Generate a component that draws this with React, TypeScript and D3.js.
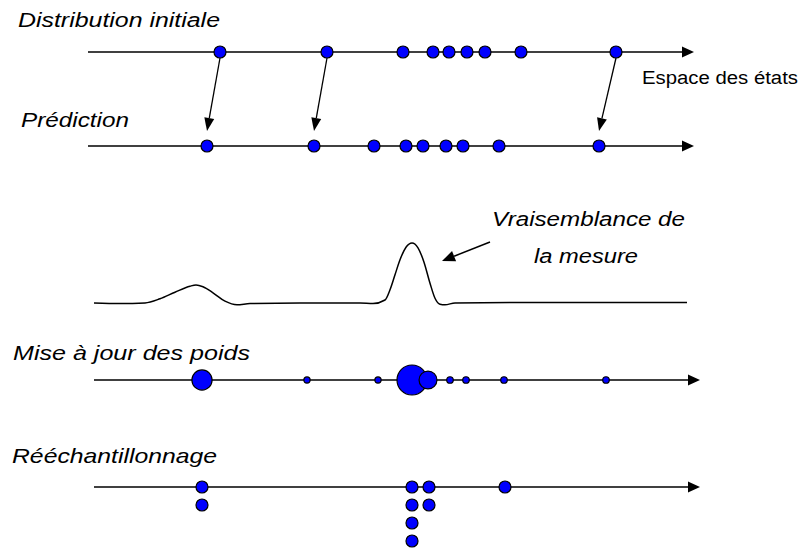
import * as d3 from "d3";

// particle positions along the state axis (state units)
const initialX = [130, 237, 313, 343, 359, 377, 395, 431, 526];
const predictedX = [117, 224, 284, 316, 333, 356, 373, 409, 509];
const movedIdx = [0, 1, 8];

const weightedX = [112, 217, 288, 322, 338, 360, 376, 414, 516];
const weights = [0.19, 0.018, 0.018, 0.42, 0.15, 0.02, 0.02, 0.02, 0.02];

const resampledX = [112, 322, 339, 415];
const resampledCount = [2, 4, 2, 1];

const likeX = [4, 30, 55, 70, 85, 100, 106, 113, 123, 135, 147, 160, 210, 270, 283, 295, 300, 305, 310, 316, 322, 328, 334, 340, 345, 350, 355, 365, 460, 597];
const likeY = [0, -0.01, 0, 0.07, 0.18, 0.28, 0.3, 0.27, 0.17, 0.03, -0.03, -0.01, 0, 0, -0.01, 0.05, 0.22, 0.47, 0.72, 0.93, 1, 0.92, 0.68, 0.33, 0.08, -0.02, -0.03, 0, 0.01, 0.01];

const W = 799;
const H = 550;
const ROW_INIT = 52;
const ROW_PRED = 146;
const ROW_LIKE = 303;
const ROW_WEIGHT = 380;
const ROW_RESAMPLE = 487;
const STACK = 18;
const DOT_R = 6;

const FONT = "'Liberation Sans', Arial, sans-serif";

function Arrow({ x1, y1, x2, y2, head = 12, half = 5, width = 1.5 }: { x1: number; y1: number; x2: number; y2: number; head?: number; half?: number; width?: number }) {
  const a = Math.atan2(y2 - y1, x2 - x1);
  const bx = x2 - head * Math.cos(a);
  const by = y2 - head * Math.sin(a);
  const px = -Math.sin(a) * half;
  const py = Math.cos(a) * half;
  return (
    <g>
      <line x1={x1} y1={y1} x2={bx} y2={by} stroke="#000" strokeWidth={width} />
      <polygon points={`${x2},${y2} ${bx + px},${by + py} ${bx - px},${by - py}`} fill="#000" />
    </g>
  );
}

function Dot({ cx, cy, r }: { cx: number; cy: number; r: number }) {
  return <circle cx={cx} cy={cy} r={r} fill="#0000ff" stroke="#000" strokeWidth={1.2} />;
}

export default function App() {
  const x = d3.scaleLinear().domain([0, 610]).range([90, 700]);
  const y = d3.scaleLinear().domain([0, 1]).range([ROW_LIKE, ROW_LIKE - 60]);
  const r = d3.scaleSqrt().domain([0, 0.42]).range([0, 15]);

  const likePath =
    d3
      .line<number>()
      .x((d) => x(d))
      .y((_d, i) => y(likeY[i]))
      .curve(d3.curveMonotoneX)(likeX) ?? "";

  const title = (t: string, tx: number, ty: number, len: number, italic = true, size = 20) => (
    <text
      x={tx}
      y={ty}
      fontFamily={FONT}
      fontSize={size}
      fontStyle={italic ? "italic" : "normal"}
      textLength={len}
      lengthAdjust="spacingAndGlyphs"
      fill="#000"
    >
      {t}
    </text>
  );

  return (
    <svg width={W} height={H} style={{ position: "absolute", left: 0, top: 0, background: "#fff" }}>
      {/* axes */}
      <Arrow x1={x(-2)} y1={ROW_INIT} x2={x(604)} y2={ROW_INIT} half={5.5} />
      <Arrow x1={x(-2)} y1={ROW_PRED} x2={x(604)} y2={ROW_PRED} half={5.5} />
      <Arrow x1={x(4)} y1={ROW_WEIGHT} x2={x(610)} y2={ROW_WEIGHT} half={5.5} />
      <Arrow x1={x(4)} y1={ROW_RESAMPLE} x2={x(610)} y2={ROW_RESAMPLE} half={5.5} />

      {/* prediction arrows */}
      {movedIdx.map((i) => (
        <Arrow
          key={i}
          x1={x(initialX[i])}
          y1={ROW_INIT + 6}
          x2={x(predictedX[i])}
          y2={ROW_PRED - 15}
          head={13}
          half={5}
          width={1.3}
        />
      ))}

      {initialX.map((d, i) => (
        <Dot key={`i${i}`} cx={x(d)} cy={ROW_INIT} r={DOT_R} />
      ))}
      {predictedX.map((d, i) => (
        <Dot key={`p${i}`} cx={x(d)} cy={ROW_PRED} r={DOT_R} />
      ))}

      {/* likelihood */}
      <path d={likePath} fill="none" stroke="#000" strokeWidth={1.5} />
      <Arrow x1={490} y1={242} x2={442} y2={261} head={13} half={5.5} width={1.5} />

      {weightedX.map((d, i) => (
        <Dot key={`w${i}`} cx={x(d)} cy={ROW_WEIGHT} r={r(weights[i])} />
      ))}

      {resampledX.map((d, i) =>
        d3.range(resampledCount[i]).map((k) => (
          <Dot key={`r${i}-${k}`} cx={x(d)} cy={ROW_RESAMPLE + k * STACK} r={DOT_R} />
        ))
      )}

      {title("Distribution initiale", 18, 27, 202, true, 20)}
      {title("Prédiction", 21, 127, 108, true, 21)}
      {title("Mise à jour des poids", 13, 360, 237, true, 21)}
      {title("Rééchantillonnage", 12, 463, 205, true, 21)}
      {title("Vraisemblance de", 492, 226, 193)}
      {title("la mesure", 534, 263, 104)}
      {title("Espace des états", 642, 84, 156, false, 18)}
    </svg>
  );
}
